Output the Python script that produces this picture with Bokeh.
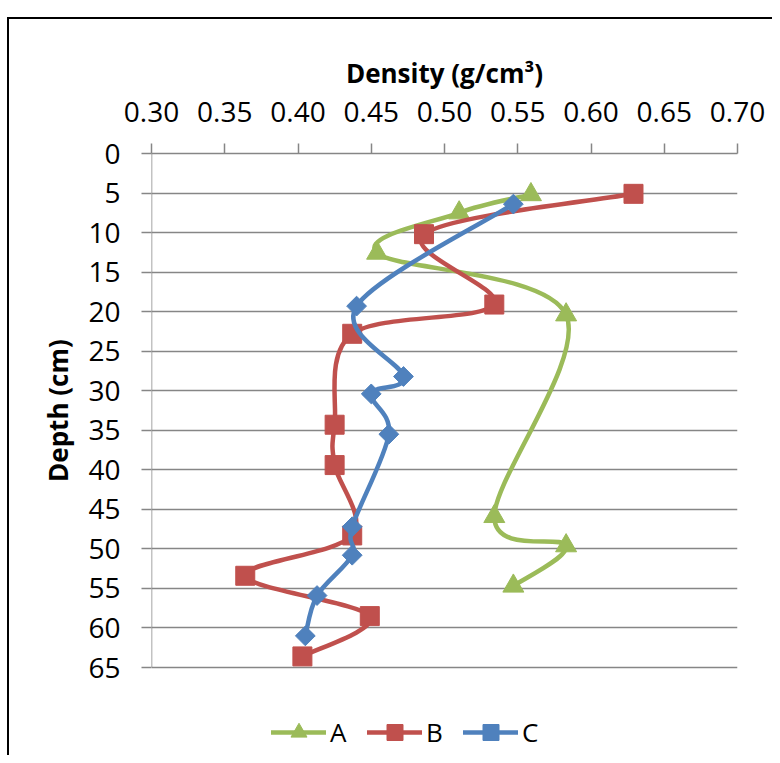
import math
from bokeh.plotting import figure
from bokeh.models import (Range1d, FixedTicker, NumeralTickFormatter, Legend, LegendItem,
                          ColumnDataSource)
from bokeh.embed import file_html
from bokeh.resources import INLINE

# ---- data ----
x_ticks = [0.30, 0.35, 0.40, 0.45, 0.50, 0.55, 0.60, 0.65, 0.70]
y_ticks = [0, 5, 10, 15, 20, 25, 30, 35, 40, 45, 50, 55, 60, 65]

A_density = [0.559, 0.510, 0.454, 0.583, 0.534, 0.583, 0.547]
A_depth = [5.2, 7.5, 12.6, 20.4, 45.9, 49.6, 54.7]

B_density = [0.629, 0.486, 0.534, 0.437, 0.425, 0.425, 0.437, 0.364, 0.449, 0.403]
B_depth = [5.1, 10.2, 19.1, 22.8, 34.3, 39.4, 48.3, 53.4, 58.5, 63.6]

C_density = [0.547, 0.440, 0.472, 0.450, 0.462, 0.437, 0.437, 0.413, 0.405]
C_depth = [6.4, 19.3, 28.2, 30.4, 35.5, 47.2, 50.8, 55.9, 61.0]

GREEN = "#9BBB59"
RED = "#C0504D"
BLUE = "#4F81BD"
GRID = "#868686"
FONT = "Open Sans"

# plot area: depth 0..65 occupies 514 px; 88 px more below hold the legend
PLOT_H, LEGEND_H = 514, 88
y_max = y_ticks[-1]
y_bottom = y_max * (PLOT_H + LEGEND_H) / PLOT_H


def smooth_segments(xs, ys):
    """Excel-like smoothed line: cubic Bezier segments (Catmull-Rom control points)."""
    n = len(xs)
    d = dict(x0=[], y0=[], x1=[], y1=[], cx0=[], cy0=[], cx1=[], cy1=[])
    for i in range(n - 1):
        ip = max(i - 1, 0)
        inn = min(i + 2, n - 1)
        d["x0"].append(xs[i]); d["y0"].append(ys[i])
        d["x1"].append(xs[i + 1]); d["y1"].append(ys[i + 1])
        d["cx0"].append(xs[i] + (xs[i + 1] - xs[ip]) / 6.0)
        d["cy0"].append(ys[i] + (ys[i + 1] - ys[ip]) / 6.0)
        d["cx1"].append(xs[i + 1] - (xs[inn] - xs[i]) / 6.0)
        d["cy1"].append(ys[i + 1] - (ys[inn] - ys[i]) / 6.0)
    return ColumnDataSource(d)


p = figure(
    frame_width=586, frame_height=PLOT_H + LEGEND_H,
    x_range=Range1d(x_ticks[0], x_ticks[-1]), y_range=Range1d(y_bottom, 0),
    x_axis_location="above",
    output_backend="svg", toolbar_location=None,
    min_border_left=151, min_border_top=153, min_border_right=35, min_border_bottom=0,
)
p.outline_line_color = None
p.background_fill_color = "white"
p.border_fill_alpha = 0
# chart-area frame: only its top and left edges fall inside the window
p.styles = {
    "background-color": "white",
    "background-image": "linear-gradient(#000,#000), linear-gradient(#000,#000)",
    "background-position": "7px 17px, 7px 17px",
    "background-size": "2px 100%, 100% 2px",
    "background-repeat": "no-repeat",
}

# axes
for ax in (p.xaxis[0], p.yaxis[0]):
    ax.axis_line_color = GRID
    ax.axis_line_width = 1.5
    ax.major_tick_line_color = GRID
    ax.major_tick_line_width = 1.5
    ax.major_tick_out = 10
    ax.major_tick_in = 0
    ax.minor_tick_line_color = None
    ax.major_label_text_font = FONT
    ax.major_label_text_font_size = "28px"
    ax.major_label_text_color = "black"
    ax.axis_label_text_font = FONT
    ax.axis_label_text_font_style = "bold"
    ax.axis_label_text_color = "black"

p.xaxis.ticker = FixedTicker(ticks=x_ticks)
p.xaxis.formatter = NumeralTickFormatter(format="0.00")
p.xaxis.axis_label = "Density (g/cm³)"
p.xaxis.axis_label_text_font_size = "26px"
p.xaxis.major_label_standoff = 22
p.xaxis.axis_label_standoff = 8

p.yaxis.ticker = FixedTicker(ticks=y_ticks)
# leading no-break spaces lift the label so it is centred on the 0-65 depth span
p.yaxis.axis_label = "\u00a0" * 13 + "Depth (cm)"
p.yaxis.axis_label_text_font_size = "26px"
p.yaxis.major_label_standoff = 21
p.yaxis.axis_label_standoff = 9
p.yaxis.axis_line_color = None
# vertical axis line only over the depth range
p.segment(x0=[x_ticks[0]], y0=[y_ticks[0]], x1=[x_ticks[0]], y1=[y_max],
          line_color=GRID, line_width=1.5)

p.xgrid.grid_line_color = None
p.ygrid.ticker = FixedTicker(ticks=y_ticks)
p.ygrid.grid_line_color = GRID
p.ygrid.grid_line_width = 1.5

items = []
series = [
    ("A", A_density, A_depth, GREEN, dict(marker="triangle", size=21, angle=0)),
    ("B", B_density, B_depth, RED, dict(marker="square", size=19, angle=0)),
    ("C", C_density, C_depth, BLUE, dict(marker="square", size=14, angle=math.pi / 4)),
]
for name, xs, ys, col, mk in series:
    src = smooth_segments(xs, ys)
    ln = p.bezier(x0="x0", y0="y0", x1="x1", y1="y1", cx0="cx0", cy0="cy0", cx1="cx1", cy1="cy1",
                  source=src, line_color=col, line_width=4.5, line_cap="round")
    sc = p.scatter(xs, ys, fill_color=col, line_color=col, line_width=1, **mk)
    items.append(LegendItem(label=name, renderers=[ln, sc]))

legend = Legend(items=items, orientation="horizontal", location=(120, 3))
legend.label_text_font = FONT
legend.label_text_font_size = "26px"
legend.label_text_color = "black"
legend.glyph_width = 55
legend.glyph_height = 40
legend.label_standoff = 4
legend.spacing = 17
legend.padding = 5
legend.margin = 0
legend.border_line_color = None
legend.background_fill_alpha = 0
p.add_layout(legend, "center")

open("out.html", "w").write(file_html(p, INLINE))
